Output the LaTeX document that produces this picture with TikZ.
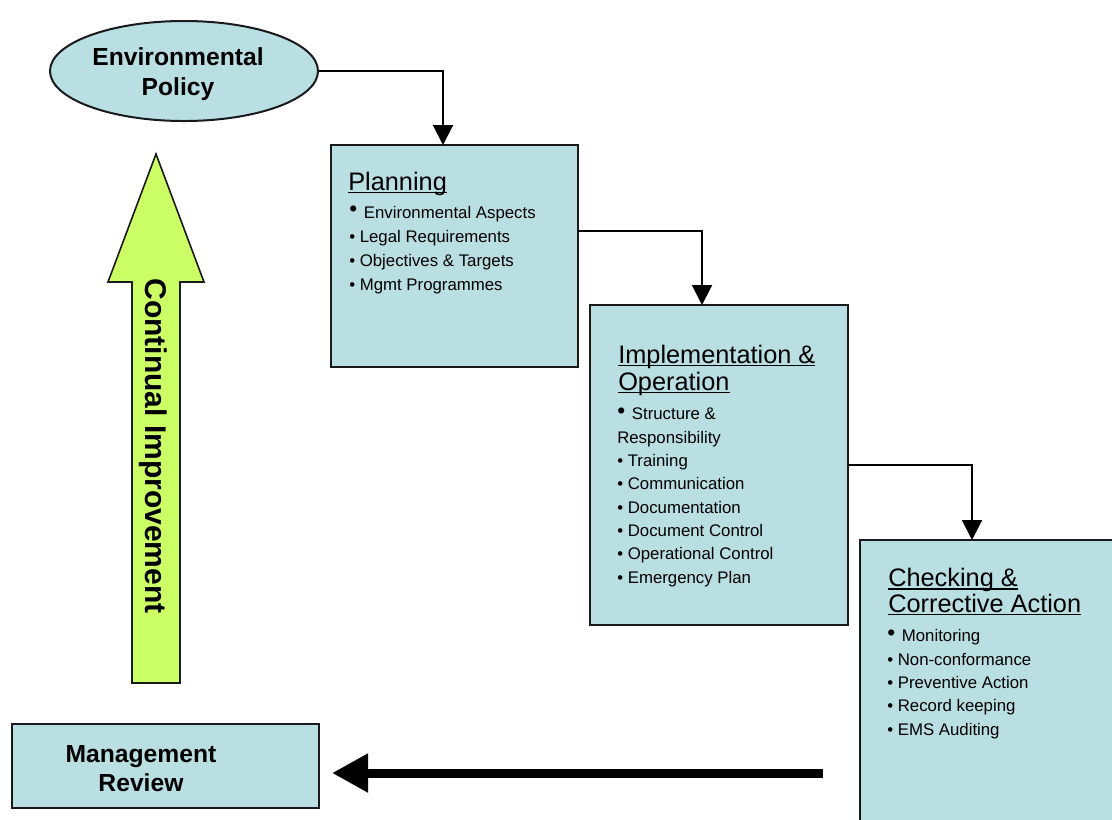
\documentclass[tikz,border=0pt]{standalone}
\usepackage{fontspec}
\setmainfont{Liberation Sans}
\usetikzlibrary{arrows.meta,calc,shapes.geometric}

\definecolor{boxfill}{HTML}{B9DFE3}
\definecolor{arrowgreen}{HTML}{CCFF66}
\definecolor{edge}{HTML}{1A1A1A}

% underline at a fixed depth below the baseline
\newcommand\ulw[1]{\setbox0\hbox{#1}\rlap{\rule[-0.12em]{\wd0}{0.06em}}\box0}
% the larger, raised bullet that opens each list
\newcommand\firstbullet{{\fontsize{17}{17}\selectfont\raisebox{1.2pt}{•}}\kern1.5pt}

\begin{document}
% multi-line text nodes are placed by the baseline of their last line
\begin{tikzpicture}[x=0.75pt,y=-0.75pt,
  stage/.style={draw=edge, line width=1.5pt, fill=boxfill, rectangle,
    inner sep=0pt, outer sep=0pt, anchor=north west},
  stagetitle/.style={anchor=base west, align=left, inner sep=0pt,
    font=\fontsize{19}{19.5}\selectfont},
  items/.style={anchor=base west, align=left, inner sep=0pt,
    font=\fontsize{12.6}{17.5}\selectfont},
  boldtext/.style={align=center, inner sep=0pt, anchor=base,
    font=\bfseries\fontsize{18.5}{22}\selectfont},
  flow/.style={draw=black, line width=1.5pt,
    -{Triangle[length=15pt,width=15pt]}},
  bigflow/.style={draw=black, line width=6.75pt,
    -{Triangle[length=27pt,width=27.5pt]}}
]
\useasboundingbox (0,0) rectangle (1112,819);

% policy ellipse
\node[ellipse, draw=edge, line width=1.5pt, fill=boxfill,
  minimum width=201pt, minimum height=75pt, inner sep=0pt] (pol) at (184,71) {};
\node[boldtext] (poltext) at (178,95) {Environmental\\Policy};

% continual improvement arrow
\fill[arrowgreen, draw=edge, line width=1.2pt]
  (156,154) -- (204,282) -- (180,282) -- (180,683) -- (132,683)
  -- (132,282) -- (108,282) -- cycle;
\node[rotate=-90, inner sep=0pt, font=\bfseries\fontsize{22.5}{22.5}\selectfont]
  (ci) at (153,446) {Continual Improvement};

% planning
\node[stage, minimum width=185.25pt, minimum height=166.5pt] (plan) at (331,145) {};
\node[stagetitle] (plantitle) at (348,190) {\ulw{Planning}};
\node[items, font=\fontsize{12.6}{18}\selectfont] (planitems) at (349,290)
  {\firstbullet\ Environmental Aspects\\
   • Legal Requirements\\
   • Objectives \& Targets\\
   • Mgmt Programmes};

% implementation and operation
\node[stage, minimum width=193.5pt, minimum height=240pt] (impl) at (590,305) {};
\node[stagetitle, font=\fontsize{19}{20.25}\selectfont] (impltitle) at (618,390)
  {\ulw{Implementation \&}\\\ulw{Operation}};
\node[items] (implitems) at (617,583)
  {\firstbullet\ Structure \&\\
   Responsibility\\
   • Training\\
   • Communication\\
   • Documentation\\
   • Document Control\\
   • Operational Control\\
   • Emergency Plan};

% checking and corrective action
\node[stage, line width=1.75pt, minimum width=192pt, minimum height=213.75pt] (chk) at (860,540) {};
\node[stagetitle, font=\fontsize{19}{19}\selectfont] (chktitle) at (888,612)
  {\ulw{Checking \&}\\\ulw{Corrective Action}};
\node[items] (chkitems) at (887,735)
  {\firstbullet\ Monitoring\\
   • Non-conformance\\
   • Preventive Action\\
   • Record keeping\\
   • EMS Auditing};

% management review
\node[stage, minimum width=230.25pt, minimum height=63pt] (mgmt) at (12,724) {};
\node[boldtext, font=\bfseries\fontsize{18.5}{21.75}\selectfont] (mgmttext) at (141,791)
  {Management\\Review};

% connectors
\draw[flow] (pol.east) -| ($(plan.north west)+(112,0)$);
\draw[flow] ($(plan.north east)+(0,86)$) -| ($(impl.north west)+(112,0)$);
\draw[flow] ($(impl.north east)+(0,160)$) -| ($(chk.north west)+(112,0)$);
\coordinate (back) at (823,773);
\draw[bigflow] (back) -- ($(mgmt.east)+(13,7)$);
\end{tikzpicture}
\end{document}
